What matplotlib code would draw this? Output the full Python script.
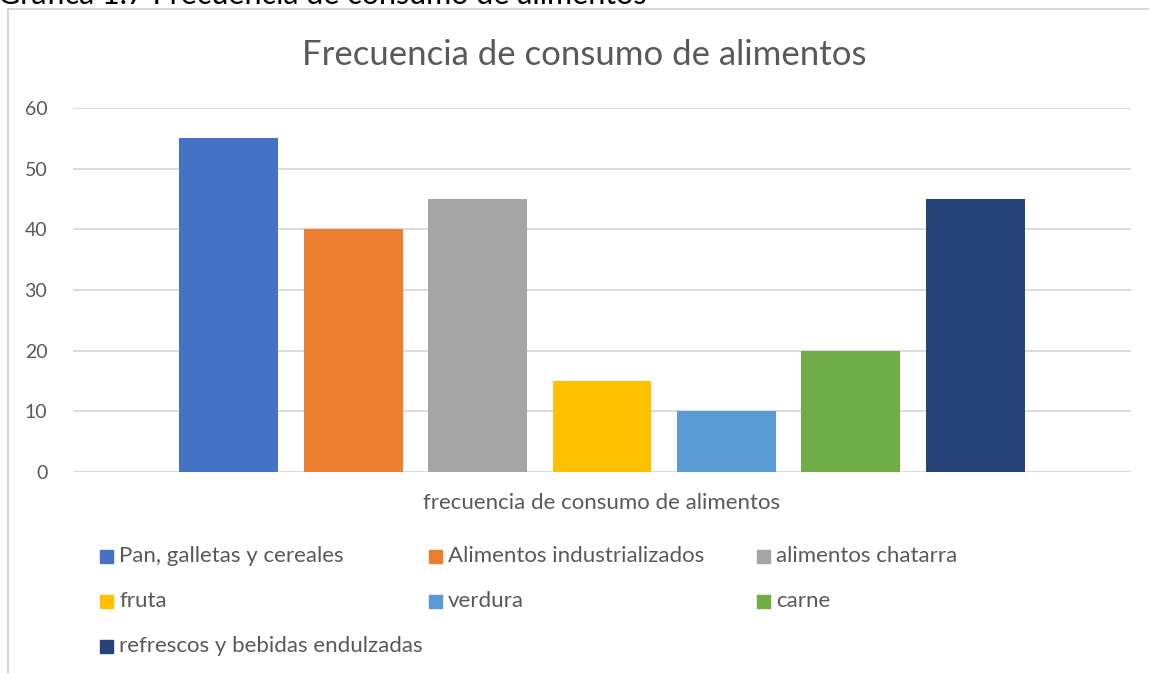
import matplotlib.pyplot as plt
from matplotlib.lines import Line2D
from matplotlib.patches import Rectangle

categories = ['Pan, galletas y cereales', 'Alimentos industrializados', 'alimentos chatarra',
              'fruta', 'verdura', 'carne', 'refrescos y bebidas endulzadas']
values = [55, 40, 45, 15, 10, 20, 45]
colors = ['#4472C4', '#ED7D31', '#A5A5A5', '#FFC000', '#5B9BD5', '#70AD47', '#264478']
yticks = [0, 10, 20, 30, 40, 50, 60]

W, H = 1149, 673
plt.rcParams['font.family'] = ['Lato', 'DejaVu Sans']
fig = plt.figure(figsize=(W / 100, H / 100), dpi=100)
fig.patch.set_facecolor('white')

# plot area in pixels: x 73..1131, y 108..472
ax = fig.add_axes([73 / W, 1 - 472 / H, 1058 / W, 364 / H])
pos = list(range(len(values)))
ax.bar(pos, values, width=0.795, color=colors, zorder=3)
ax.set_xlim(-1.25, 7.25)
ax.set_ylim(0, 60)
ax.set_yticks(yticks)
ax.set_xticks([])
ax.grid(axis='y', color='#d9d9d9', linewidth=1.3, zorder=0)
for s in ax.spines.values():
    s.set_visible(False)
ax.tick_params(axis='y', length=0, pad=18.5, labelsize=14, labelcolor='#595959')

gray = '#595959'
fig.text(584 / W, 1 - 55 / H, 'Frecuencia de consumo de alimentos', ha='center', va='center',
         fontsize=25, color=gray)
fig.text(602 / W, 1 - 503 / H, 'frecuencia de consumo de alimentos', ha='center', va='center',
         fontsize=16, color=gray)

# cut-off caption above the chart (only its lower edge shows)
fig.text(-2 / W, 1 - 3.5 / H, 'Gráfica 1.7 Frecuencia de consumo de alimentos', ha='left',
         va='baseline', fontsize=22, color='black')

# chart border
fig.add_artist(Line2D([8 / W, 1], [1 - 9 / H, 1 - 9 / H], color='#d0d0d0', linewidth=1.2))
fig.add_artist(Line2D([8 / W, 8 / W], [0, 1 - 9 / H], color='#d0d0d0', linewidth=1.2))

# legend laid out in rows like the original
col_x = [100, 429, 757]
row_y = [556, 601, 646]
for i, (lab, c) in enumerate(zip(categories, colors)):
    x = col_x[i % 3]
    y = row_y[i // 3]
    fig.add_artist(Rectangle((x / W, 1 - (y + 6.5) / H), 13 / W, 13 / H, color=c,
                             transform=fig.transFigure))
    fig.text((x + 19) / W, 1 - y / H, lab, ha='left', va='center', fontsize=16, color=gray)

fig.savefig('out.png', dpi=100)
